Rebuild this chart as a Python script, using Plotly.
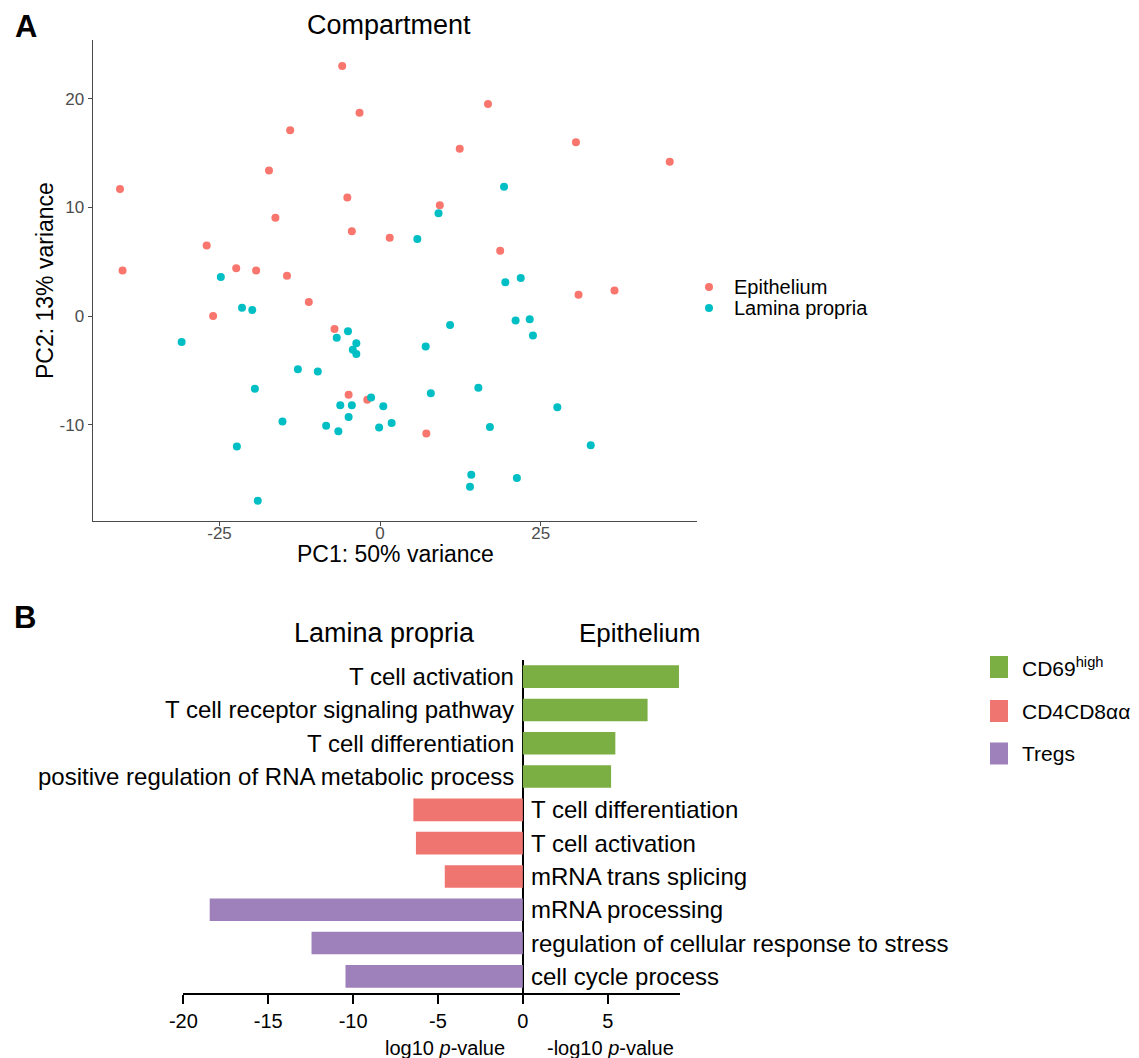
import plotly.graph_objects as go

W, H = 1139, 1058
FONT = "Liberation Sans, Arial, sans-serif"


def px(x):
    return x / W


def py(y):
    return 1 - y / H


# ---------------- Panel A data (PCA) ----------------
epi_pc1 = [-5.9, -3.2, -14.0, -17.3, -5.1, -16.3, -4.4, 1.5, -40.5, -40.1,
           -27.0, -22.4, -19.3, -14.5, 16.8, 12.4, 30.5, 45.1, 9.3, 18.7,
           36.5, 30.9, -26.0, -11.1, -7.1, -4.9, -2.0, 7.2]
epi_pc2 = [23.0, 18.7, 17.1, 13.4, 10.9, 9.05, 7.8, 7.2, 11.7, 4.2,
           6.5, 4.4, 4.2, 3.7, 19.5, 15.4, 16.0, 14.2, 10.2, 6.0,
           2.35, 1.95, 0.0, 1.3, -1.2, -7.25, -7.7, -10.8]

lp_pc1 = [-24.8, 19.3, 9.1, 5.8, 19.5, 21.9, -21.5, -19.9, -30.9, -5.0,
          -6.75, -3.7, -4.25, -3.7, -12.8, -9.7, -19.5, -1.4, -6.2, -4.4,
          0.5, -4.9, -15.2, -8.4, -6.5, -0.15, 1.8, -22.3, -19.05, 10.9,
          21.1, 23.3, 23.8, 7.1, 15.3, 7.9, 17.1, 27.6, 32.8, 14.2,
          14.0, 21.3]
lp_pc2 = [3.6, 11.9, 9.45, 7.1, 3.1, 3.5, 0.76, 0.55, -2.4, -1.4,
          -2.0, -2.5, -3.1, -3.5, -4.9, -5.1, -6.7, -7.5, -8.2, -8.2,
          -8.3, -9.3, -9.7, -10.1, -10.6, -10.25, -9.85, -12.0, -17.0, -0.83,
          -0.4, -0.3, -1.8, -2.8, -6.6, -7.1, -10.2, -8.4, -11.9, -14.6,
          -15.7, -14.9]

a_xticks = [-25, 0, 25]
a_xticktext = ["-25", "0", "25"]
a_yticks = [-10, 0, 10, 20]
a_yticktext = ["-10", "0", "10", "20"]

# ---------------- Panel B data (GO terms) ----------------
terms = ["T cell activation", "T cell receptor signaling pathway",
         "T cell differentiation", "positive regulation of RNA metabolic process",
         "T cell differentiation", "T cell activation", "mRNA trans splicing",
         "mRNA processing", "regulation of cellular response to stress",
         "cell cycle process"]
groups = ["CD69high", "CD69high", "CD69high", "CD69high",
          "CD4CD8aa", "CD4CD8aa", "CD4CD8aa",
          "Tregs", "Tregs", "Tregs"]
log_p = [9.2, 7.35, 5.45, 5.2, -6.45, -6.3, -4.6, -18.45, -12.45, -10.45]

group_order = ["CD69high", "CD4CD8aa", "Tregs"]
group_labels = ["CD69<sup>high</sup>", "CD4CD8αα", "Tregs"]
group_colors = ["#7BAF43", "#EF7670", "#9E80BA"]

b_xticks = [-20, -15, -10, -5, 0, 5]
b_xticktext = ["-20", "-15", "-10", "-5", "0", "5"]

fig = go.Figure()

# Panel A scatter
fig.add_trace(go.Scatter(x=epi_pc1, y=epi_pc2, mode="markers", name="Epithelium",
                         marker=dict(color="#F8766D", size=8), showlegend=False,
                         xaxis="x", yaxis="y"))
fig.add_trace(go.Scatter(x=lp_pc1, y=lp_pc2, mode="markers", name="Lamina propria",
                         marker=dict(color="#00BFC4", size=8), showlegend=False,
                         xaxis="x", yaxis="y"))

# Panel B bars
rows = list(range(len(terms)))
for g, lab, col in zip(group_order, group_labels, group_colors):
    ys = [r for r, gg in zip(rows, groups) if gg == g]
    xs = [v for v, gg in zip(log_p, groups) if gg == g]
    fig.add_trace(go.Bar(x=xs, y=ys, orientation="h", name=lab, width=0.68,
                         marker=dict(color=col, line=dict(width=0)),
                         showlegend=False, xaxis="x2", yaxis="y2"))

ann = []
# Category labels on panel B
for r, t, v in zip(rows, terms, log_p):
    if v > 0:
        ann.append(dict(x=0, y=r, xref="x2", yref="y2", text=t, showarrow=False,
                        xanchor="right", yanchor="middle", xshift=-7,
                        font=dict(size=24, color="black", family=FONT)))
    else:
        ann.append(dict(x=0, y=r, xref="x2", yref="y2", text=t, showarrow=False,
                        xanchor="left", yanchor="middle", xshift=6,
                        font=dict(size=24, color="black", family=FONT)))


def txt(x, y, text, size, xanchor="center", bold=False, angle=0, color="black"):
    ann.append(dict(x=px(x), y=py(y), xref="paper", yref="paper", text=text,
                    showarrow=False, xanchor=xanchor, yanchor="middle",
                    textangle=angle,
                    font=dict(size=size, color=color, family=FONT,
                              weight="bold" if bold else "normal")))


# Panel letters and titles
txt(13, 26, "A", 31, xanchor="left", bold=True)
txt(12, 617, "B", 31, xanchor="left", bold=True)
txt(389, 25, "Compartment", 27)
txt(395, 554, "PC1: 50% variance", 23)
txt(45, 281, "PC2: 13% variance", 23, angle=-90)

# Panel A legend
leg_a = [("Epithelium", "#F8766D", 287), ("Lamina propria", "#00BFC4", 308)]
shapes = []
for name, col, yy in leg_a:
    shapes.append(dict(type="circle", xref="paper", yref="paper",
                       x0=px(705), x1=px(713), y0=py(yy + 4), y1=py(yy - 4),
                       fillcolor=col, line=dict(width=0)))
    txt(732, yy, name, 20, xanchor="left")

# Panel B titles and axis captions
txt(384, 633, "Lamina propria", 27)
txt(639, 633, "Epithelium", 26)
txt(445, 1048, "log10 <i>p</i>-value", 20)
txt(610, 1048, "-log10 <i>p</i>-value", 20)

# Panel B legend
for lab, col, yy in zip(group_labels, group_colors, [667, 711, 753.5]):
    shapes.append(dict(type="rect", xref="paper", yref="paper",
                       x0=px(990), x1=px(1008), y0=py(yy + 11), y1=py(yy - 11),
                       fillcolor=col, line=dict(width=0)))
    txt(1020, yy, lab, 21, xanchor="left")

fig.update_layout(
    width=W, height=H,
    margin=dict(l=0, r=0, t=0, b=0, pad=0, autoexpand=False),
    paper_bgcolor="white", plot_bgcolor="white",
    font=dict(family=FONT, color="black"),
    bargap=0.32,
    xaxis=dict(domain=[px(92.7), px(696.7)], range=[-44.75, 49.3], anchor="y",
               automargin=False, ticklabelstandoff=-8,
               showline=True, linecolor="#4a4a4a", linewidth=1.3,
               ticks="outside", ticklen=4, tickcolor="#4a4a4a", tickwidth=1.2,
               tickvals=a_xticks, ticktext=a_xticktext,
               tickfont=dict(size=17, color="#4D4D4D", family=FONT),
               showgrid=False, zeroline=False),
    yaxis=dict(domain=[py(521), py(40)], range=[-18.86, 25.4], anchor="x",
               automargin=False,
               showline=True, linecolor="#4a4a4a", linewidth=1.3,
               ticks="outside", ticklen=4, tickcolor="#4a4a4a", tickwidth=1.2,
               tickvals=a_yticks, ticktext=a_yticktext,
               tickfont=dict(size=17, color="#4D4D4D", family=FONT),
               showgrid=False, zeroline=False),
    xaxis2=dict(domain=[px(183.4), px(680)], range=[-20, 9.26], anchor="y2",
                automargin=False,
                showline=True, linecolor="black", linewidth=2,
                ticks="outside", ticklen=9, tickcolor="black", tickwidth=2,
                tickvals=b_xticks, ticktext=b_xticktext,
                tickfont=dict(size=20, color="black", family=FONT),
                showgrid=False, zeroline=True, zerolinecolor="black",
                zerolinewidth=2),
    yaxis2=dict(domain=[py(993), py(660)], range=[9.5, -0.5], anchor="x2",
                automargin=False,
                showline=False, showticklabels=False, ticks="",
                showgrid=False, zeroline=False),
    annotations=ann,
    shapes=shapes,
)

fig.write_html(
    "out.html",
    config={"displayModeBar": False},
    post_script="document.body.style.margin='0';document.body.style.overflow='hidden';",
)
